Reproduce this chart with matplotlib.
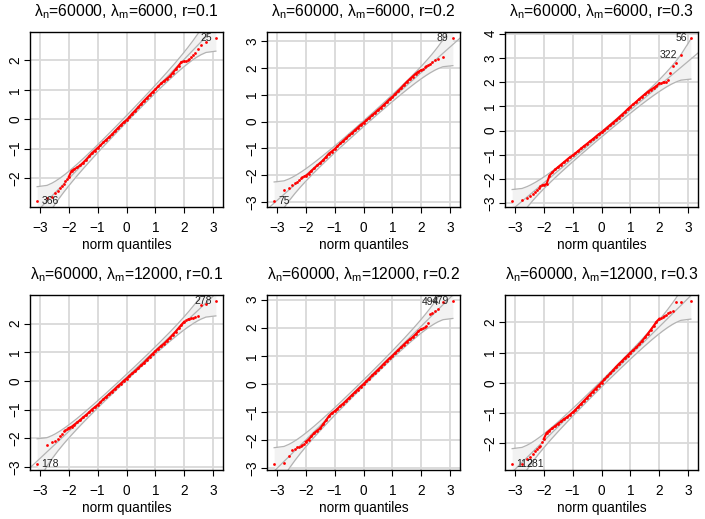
import matplotlib
matplotlib.use("Agg")
import matplotlib.pyplot as plt
from matplotlib.ticker import MultipleLocator
from statistics import NormalDist

plt.rcParams["font.family"] = ["Liberation Sans", "DejaVu Sans"]
plt.rcParams["mathtext.fontset"] = "custom"
plt.rcParams["mathtext.rm"] = "Liberation Sans"
plt.rcParams["mathtext.it"] = "Liberation Sans:italic"

Q_LO = [-3.09, -2.75, -2.58, -2.46, -2.37, -2.29, -2.23, -2.17, -2.12, -2.07]
Q_MID = [-2.0, -1.9, -1.8, -1.7, -1.6, -1.5, -1.4, -1.3, -1.2, -1.1, -1.0,
         -0.9, -0.8, -0.7, -0.6, -0.5, -0.4, -0.3, -0.2, -0.1, 0.0,
         0.1, 0.2, 0.3, 0.4, 0.5, 0.6, 0.7, 0.8, 0.9, 1.0,
         1.1, 1.2, 1.3, 1.4, 1.5, 1.6, 1.7, 1.8, 1.9, 2.0]
Q_HI = [2.07, 2.12, 2.17, 2.23, 2.29, 2.37, 2.46, 2.58, 2.75, 3.09]

# sample quantiles, per panel (lower tail / middle / upper tail)
S1_LO = [-2.77, -2.70, -2.65, -2.52, -2.45, -2.36, -2.28, -2.20, -2.12, -2.04]
S1_MID = [-1.97, -1.76, -1.70, -1.64, -1.57, -1.48, -1.38, -1.27, -1.16, -1.07, -0.98,
          -0.89, -0.79, -0.70, -0.61, -0.52, -0.41, -0.31, -0.21, -0.11, -0.03,
          0.07, 0.19, 0.29, 0.40, 0.51, 0.62, 0.72, 0.82, 0.92, 1.02,
          1.12, 1.22, 1.30, 1.38, 1.46, 1.58, 1.70, 1.82, 1.95, 1.97]
S1_HI = [1.98, 2.00, 2.05, 2.12, 2.20, 2.25, 2.38, 2.52, 2.64, 2.75]

S2_LO = [-2.95, -2.57, -2.48, -2.38, -2.31, -2.24, -2.17, -2.12, -2.08, -2.05]
S2_MID = [-2.03, -1.95, -1.84, -1.74, -1.64, -1.55, -1.45, -1.33, -1.20, -1.12, -1.03,
          -0.92, -0.82, -0.72, -0.62, -0.52, -0.43, -0.33, -0.23, -0.13, -0.05,
          0.05, 0.14, 0.24, 0.33, 0.43, 0.52, 0.62, 0.72, 0.83, 0.92,
          1.03, 1.14, 1.25, 1.37, 1.48, 1.58, 1.68, 1.78, 1.86, 1.92]
S2_HI = [1.96, 2.02, 2.08, 2.12, 2.16, 2.24, 2.28, 2.33, 2.40, 3.10]

S3_LO = [-2.88, -2.84, -2.76, -2.69, -2.60, -2.52, -2.44, -2.36, -2.28, -2.25]
S3_MID = [-2.24, -2.20, -1.85, -1.72, -1.60, -1.50, -1.40, -1.30, -1.20, -1.10, -1.02,
          -0.93, -0.83, -0.73, -0.63, -0.54, -0.44, -0.35, -0.25, -0.15, -0.07,
          0.03, 0.13, 0.23, 0.33, 0.43, 0.54, 0.65, 0.76, 0.88, 0.99,
          1.09, 1.19, 1.30, 1.40, 1.50, 1.60, 1.68, 1.76, 1.84, 1.95]
S3_HI = [1.98, 1.99, 2.00, 2.02, 2.10, 2.36, 2.67, 2.77, 3.12, 3.80]

S4_LO = [-2.88, -2.24, -2.14, -2.10, -2.02, -1.92, -1.86, -1.75, -1.72, -1.68]
S4_MID = [-1.64, -1.60, -1.52, -1.44, -1.36, -1.27, -1.19, -1.10, -1.00, -0.92, -0.84,
          -0.74, -0.64, -0.55, -0.46, -0.37, -0.28, -0.18, -0.10, 0.00, 0.08,
          0.18, 0.26, 0.35, 0.44, 0.54, 0.63, 0.74, 0.84, 0.94, 1.04,
          1.13, 1.22, 1.30, 1.40, 1.50, 1.61, 1.72, 1.84, 1.96, 2.07]
S4_HI = [2.13, 2.16, 2.17, 2.19, 2.20, 2.22, 2.25, 2.63, 2.69, 2.77]

S5_LO = [-2.83, -2.80, -2.56, -2.36, -2.30, -2.26, -2.24, -2.20, -2.16, -2.12]
S5_MID = [-2.06, -1.98, -1.86, -1.74, -1.66, -1.58, -1.44, -1.30, -1.15, -1.04, -0.97,
          -0.88, -0.78, -0.70, -0.60, -0.50, -0.40, -0.30, -0.20, -0.10, -0.01,
          0.09, 0.19, 0.30, 0.40, 0.50, 0.60, 0.71, 0.81, 0.91, 1.00,
          1.10, 1.20, 1.30, 1.40, 1.50, 1.58, 1.66, 1.76, 1.87, 1.95]
S5_HI = [1.99, 2.02, 2.05, 2.18, 2.48, 2.52, 2.58, 2.66, 2.92, 2.93]

S6_LO = [-2.67, -2.67, -2.51, -2.45, -2.36, -2.25, -2.18, -2.14, -2.10, -1.95]
S6_MID = [-1.86, -1.66, -1.58, -1.50, -1.43, -1.35, -1.28, -1.20, -1.14, -1.06, -0.98,
          -0.89, -0.79, -0.69, -0.59, -0.49, -0.39, -0.29, -0.19, -0.09, 0.01,
          0.11, 0.21, 0.31, 0.41, 0.52, 0.62, 0.71, 0.81, 0.90, 1.00,
          1.08, 1.17, 1.27, 1.38, 1.50, 1.62, 1.75, 1.88, 2.02, 2.12]
S6_HI = [2.15, 2.18, 2.20, 2.25, 2.30, 2.34, 2.36, 2.66, 2.67, 2.69]

LAMBDA_M = ["6000", "6000", "6000", "12000", "12000", "12000"]
R_VALUES = ["0.1", "0.2", "0.3", "0.1", "0.2", "0.3"]

# reference line (intercept, slope) per panel
LINE_A = [0.01, -0.085, -0.15, 0.125, 0.03, -0.035]
LINE_B = [1.018, 0.958, 1.004, 0.945, 1.013, 0.945]

# labelled observations: (index in the point list, label)
POINT_LABELS = [
    [(-1, "25"), (0, "366")],
    [(-1, "89"), (0, "75")],
    [(-1, "56"), (-2, "322")],
    [(-1, "278"), (0, "178")],
    [(-1, "479"), (-2, "494")],
    [(0, "112"), (1, "281")],
]

N_OBS = 500

samples = [
    (S1_LO, S1_MID, S1_HI), (S2_LO, S2_MID, S2_HI), (S3_LO, S3_MID, S3_HI),
    (S4_LO, S4_MID, S4_HI), (S5_LO, S5_MID, S5_HI), (S6_LO, S6_MID, S6_HI),
]

# envelope grid: normal quantiles of the plotting positions
nd = NormalDist()
pp = [(i - 0.5) / N_OBS for i in range(1, N_OBS + 1)]
zz = [nd.inv_cdf(p) for p in pp]

W, H = 705, 519
fig = plt.figure(figsize=(W / 100, H / 100), dpi=100)
lefts = [30, 267, 505]
tops = [32, 295]
aw, ah = 193, 175

q_all = Q_LO + Q_MID + Q_HI
zmin, zmax = min(zz), max(zz)
xpad = 0.04 * (zmax - zmin)

for k in range(6):
    row, col = divmod(k, 3)
    ax = fig.add_axes([lefts[col] / W, 1 - (tops[row] + ah) / H, aw / W, ah / H])
    lo, mid, hi = samples[k]
    s_all = lo + mid + hi
    a, b = LINE_A[k], LINE_B[k]

    ax.set_xlim(zmin - xpad, zmax + xpad)
    ylo, yhi = min(s_all), max(s_all)
    ypad = 0.04 * (yhi - ylo)
    ax.set_ylim(ylo - ypad, yhi + ypad)

    ax.xaxis.set_major_locator(MultipleLocator(1))
    ax.yaxis.set_major_locator(MultipleLocator(1))
    ax.grid(True, color="#d9d9d9", lw=1.3, zorder=0)
    ax.set_axisbelow(True)

    fit = [a + b * z for z in zz]
    se = [b / nd.pdf(z) * ((p * (1 - p)) / N_OBS) ** 0.5 for z, p in zip(zz, pp)]
    upper = [f + 1.96 * s for f, s in zip(fit, se)]
    lower = [f - 1.96 * s for f, s in zip(fit, se)]
    ax.fill_between(zz, lower, upper, color="#f2f2f2", lw=0, zorder=1)
    ax.plot(zz, upper, color="#b3b3b3", lw=0.9, zorder=2)
    ax.plot(zz, lower, color="#b3b3b3", lw=0.9, zorder=2)
    ax.axline((0, a), slope=b, color="#b3b3b3", lw=0.9, zorder=2)

    ax.plot(Q_MID, mid, color="red", lw=1.5, zorder=3)
    ax.plot(q_all, s_all, "o", color="red", ms=2.0, mec="none", zorder=4)

    for idx, txt in POINT_LABELS[k]:
        qx, sy = q_all[idx], s_all[idx]
        if qx > 0:
            ax.annotate(txt, (qx, sy), xytext=(-3, 0), textcoords="offset points",
                        ha="right", va="center", fontsize=7.5, color="#222222", zorder=5)
        else:
            ax.annotate(txt, (qx, sy), xytext=(3, 0), textcoords="offset points",
                        ha="left", va="center", fontsize=7.5, color="#222222", zorder=5)

    for sp in ax.spines.values():
        sp.set_linewidth(1.0)
        sp.set_color("black")
    ax.tick_params(axis="both", direction="out", length=4, width=0.8,
                   labelsize=9.8, color="black")
    ax.tick_params(axis="x", pad=6)
    ax.tick_params(axis="y", pad=1.5)
    for lab in ax.get_yticklabels():
        lab.set_rotation(90)
        lab.set_va("center")
    ax.set_xlabel("norm quantiles", fontsize=9.8, labelpad=2)
    ax.set_title(r"$\mathregular{\lambda_n}$=60000, $\mathregular{\lambda_m}$="
                 + LAMBDA_M[k] + ", r=" + R_VALUES[k], fontsize=11.3, pad=11)

fig.savefig("out.png", dpi=100)
